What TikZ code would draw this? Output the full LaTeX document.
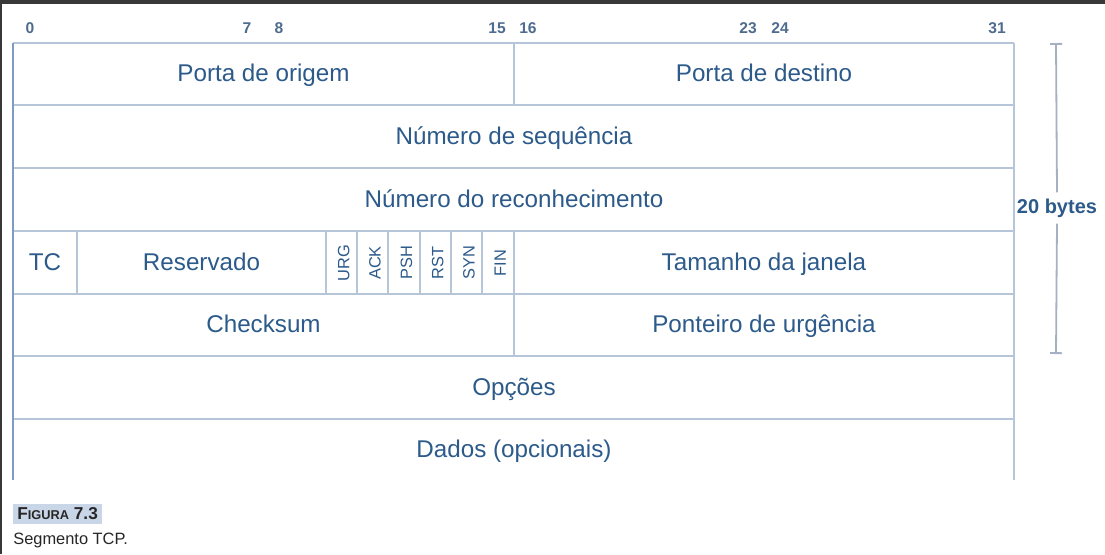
\documentclass[tikz,border=0pt]{standalone}
\usepackage{fontspec}
\setmainfont{Liberation Sans}
\usetikzlibrary{arrows.meta}
\definecolor{fieldtext}{HTML}{2C5A8A}
\definecolor{gridline}{HTML}{B7C5D9}
\definecolor{leftline}{HTML}{7F9CC0}
\definecolor{bitgrey}{HTML}{4F6C8E}
\definecolor{capbg}{HTML}{C9D6E8}

\begin{document}
\begin{tikzpicture}[x=0.5pt, y=-0.5pt,
	every node/.style={font=\fontsize{12.1}{14}\selectfont, text=fieldtext, inner sep=1pt},
	field/.style={text height=1.5ex, text depth=0.4ex, yshift=-1pt},
	grid/.style={draw=gridline, line width=0.8pt},
	bitnum/.style={font=\fontsize{7.8}{9}\selectfont\bfseries, text=bitgrey},
	flag/.style={rotate=90, font=\fontsize{8.2}{9}\selectfont, text height=1.5ex, text depth=0pt},
	bracket/.style={draw=gridline!90!black, line width=0.9pt}]
	\useasboundingbox[fill=white] (0,0) rectangle (1105,554);
	\fill[black!78] (0,0) rectangle (1105,4);
	\fill[black!78] (0,0) rectangle (2,554);
	% bit numbers
	\foreach \x/\b in {30/0, 247/7, 279/8, 497/15, 528/16, 748/23, 780/24, 997/31}
		\node[bitnum] (bit\b) at (\x,28) {\b};
	% rows and fields
	\foreach \y in {43,105,168,231,294,356,419}
		\draw[grid] (13,\y) -- (1014,\y);
	\draw[grid] (1014,43) -- (1014,480);
	\draw[grid] (514,43) -- (514,105);
	\draw[grid] (514,231) -- (514,356);
	\draw[grid] (77,231) -- (77,294);
	\foreach \x in {326,357,388,420,451,482}
		\draw[grid] (\x,231) -- (\x,294);
	\draw[draw=leftline, line width=1.1pt] (13,43) -- (13,480);
	\node[field] (srcport) at (263.5,74) {Porta de origem};
	\node[field] (dstport) at (764,74) {Porta de destino};
	\node[field] (seqnum) at (514,136.5) {Número de sequência};
	\node[field] (acknum) at (514,199.5) {Número do reconhecimento};
	\node[field] (hlen) at (45,262.5) {TC};
	\node[field] (resv) at (201.5,262.5) {Reservado};
	\foreach \f [count=\i from 0] in {URG,ACK,PSH,RST,SYN,FIN}
		\node[flag] (flag\f) at (341.5+31.3*\i,263) {\f};
	\node[field] (window) at (764,262.5) {Tamanho da janela};
	\node[field] (chksum) at (263.5,325) {Checksum};
	\node[field] (urgptr) at (764,325) {Ponteiro de urgência};
	\node[field] (opts) at (514,387.5) {Opções};
	\node[field] (data) at (514,450) {Dados (opcionais)};
	% 20 bytes bracket
	\coordinate (hdrtop) at (1056,43);
	\coordinate (hdrbot) at (1056,354);
	\node[font=\fontsize{10}{12}\selectfont\bfseries, inner sep=3pt] (hdrlen) at (1057,208) {20 bytes};
	\draw[bracket, {Bar[width=6pt]}-] (hdrtop) -- (hdrlen.north);
	\draw[bracket, -{Bar[width=6pt]}] (hdrlen.south) -- (hdrbot);
	% caption
	\node[fill=capbg, anchor=west, inner sep=2pt, text=black!85, font=\bfseries] (figlabel) at (13,514)
		{\fontsize{8.6}{10}\selectfont F\fontsize{6.4}{10}\selectfont IGURA\fontsize{8.6}{10}\selectfont{} 7.3};
	\node[anchor=west, inner sep=0pt, text=black!85, font=\fontsize{8.2}{10}\selectfont] (figtitle) at (13,540) {Segmento TCP.};
\end{tikzpicture}
\end{document}
